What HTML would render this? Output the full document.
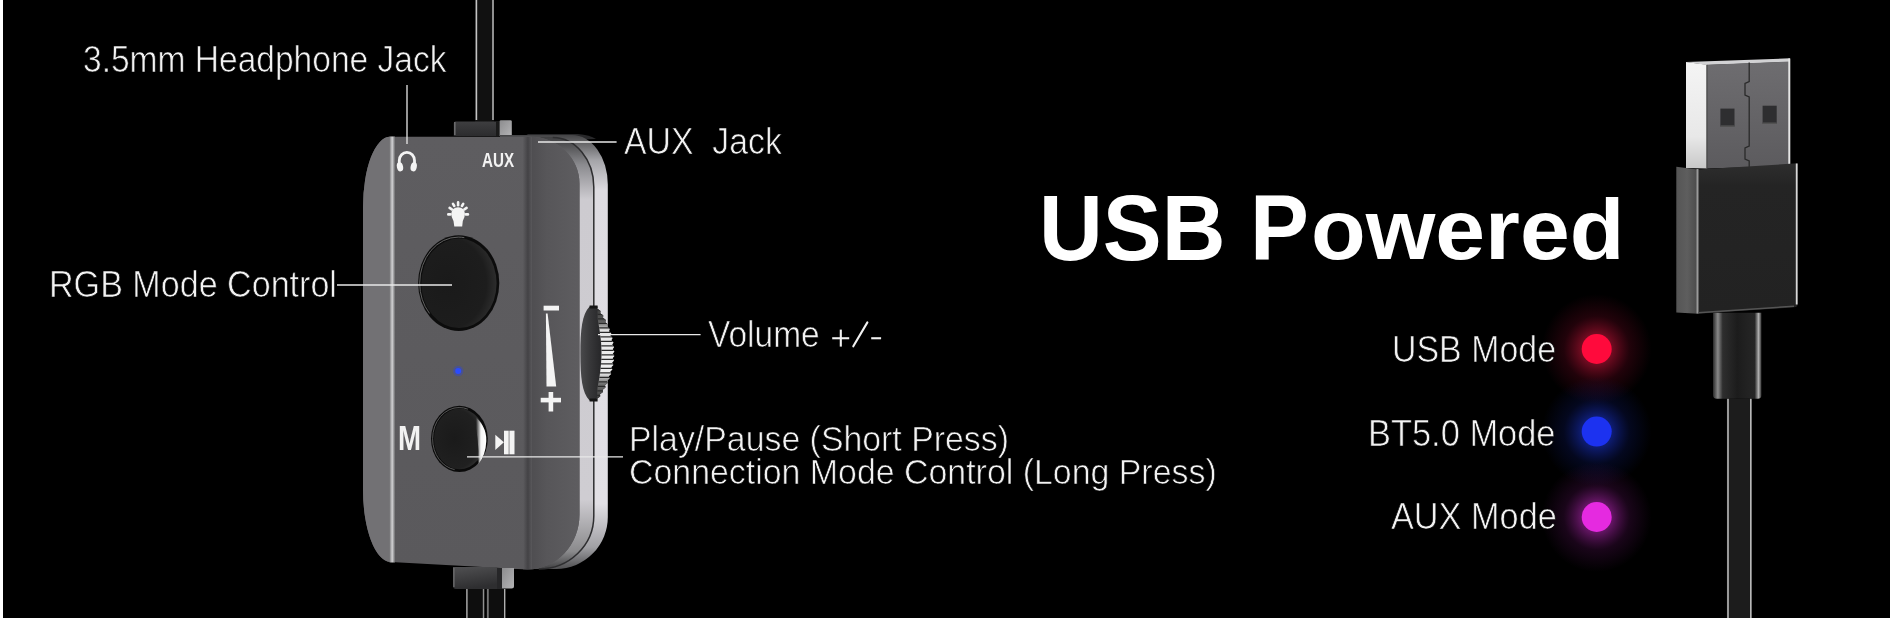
<!DOCTYPE html>
<html><head><meta charset="utf-8">
<style>
html,body{margin:0;padding:0;width:1894px;height:618px;overflow:hidden;background:#fff;}
#stage{position:absolute;left:3px;top:0;width:1887px;height:618px;background:#000;overflow:hidden;}
svg{position:absolute;left:0;top:0;}
.t{position:absolute;transform-origin:0 0;-webkit-text-stroke:0.7px #000;font-family:"Liberation Sans",sans-serif;color:#f2f2f2;white-space:pre;line-height:1;}
</style></head>
<body>
<div id="stage"></div>
<svg width="1894" height="618" viewBox="0 0 1894 618">
  <defs>
    <linearGradient id="sideO" gradientUnits="userSpaceOnUse" x1="0" y1="134" x2="0" y2="569">
      <stop offset="0" stop-color="#404042"/>
      <stop offset="0.015" stop-color="#5a5a5c"/>
      <stop offset="0.06" stop-color="#a4a4a8"/>
      <stop offset="0.13" stop-color="#dedce1"/>
      <stop offset="0.85" stop-color="#e2e0e5"/>
      <stop offset="0.95" stop-color="#a0a0a4"/>
      <stop offset="1" stop-color="#505052"/>
    </linearGradient>
    <linearGradient id="sideI" gradientUnits="userSpaceOnUse" x1="0" y1="134" x2="0" y2="569">
      <stop offset="0" stop-color="#3a3a3c"/>
      <stop offset="0.02" stop-color="#4a4a4c"/>
      <stop offset="0.07" stop-color="#8a8a8e"/>
      <stop offset="0.15" stop-color="#cdcbd0"/>
      <stop offset="0.84" stop-color="#cfcdd2"/>
      <stop offset="0.96" stop-color="#8a8a8c"/>
      <stop offset="1" stop-color="#404042"/>
    </linearGradient>
    <linearGradient id="side" x1="0" y1="0" x2="0" y2="1">
      <stop offset="0" stop-color="#505052"/>
      <stop offset="0.12" stop-color="#a8a8ac"/>
      <stop offset="0.3" stop-color="#c8c8cc"/>
      <stop offset="0.85" stop-color="#d6d6da"/>
      <stop offset="1" stop-color="#6a6a6c"/>
    </linearGradient>
    <linearGradient id="face" x1="0" y1="0" x2="0" y2="1">
      <stop offset="0" stop-color="#5e5d60"/>
      <stop offset="1" stop-color="#5a595c"/>
    </linearGradient>
    <linearGradient id="hl" x1="0" y1="0" x2="1" y2="0">
      <stop offset="0" stop-color="#7a7a7c"/>
      <stop offset="0.5" stop-color="#d2d2d4"/>
      <stop offset="1" stop-color="#6a6a6c"/>
    </linearGradient>
    <clipPath id="faceclip"><path d="M390 136.8 H530 A49 47 0 0 1 579.5 184 V514 A52 55 0 0 1 527.5 569.5 L391 562 A28 72 0 0 1 363 490 V207 A27 70.2 0 0 1 390 136.8 Z"/></clipPath>
    <clipPath id="wheelClip"><path d="M597.4 306.5 L597.4 306.5 L597.4 308.8 L600.5 311.0 L600.3 313.2 L603.3 315.5 L603.0 317.8 L605.8 320.0 L605.3 322.2 L607.9 324.5 L607.3 326.8 L609.8 329.0 L609.0 331.2 L611.3 333.5 L610.4 335.8 L612.6 338.0 L611.4 340.2 L613.5 342.5 L612.2 344.8 L614.1 347.0 L612.7 349.2 L614.4 351.5 L612.8 353.8 L614.4 356.0 L612.6 358.2 L614.0 360.5 L612.1 362.8 L613.4 365.0 L611.3 367.2 L612.4 369.5 L610.2 371.8 L611.2 374.0 L608.8 376.2 L609.6 378.5 L607.1 380.8 L607.7 383.0 L605.0 385.2 L605.5 387.5 L602.7 389.8 L603.0 392.0 L600.0 394.2 L600.2 396.5 L597.0 398.8 L597.5 388.0 L598.0 385.0 L598.6 382.0 L599.1 379.0 L599.6 376.0 L600.0 373.0 L600.4 370.0 L600.7 367.0 L601.0 364.0 L601.2 361.0 L601.4 358.0 L601.5 355.0 L601.5 352.0 L601.4 349.0 L601.3 346.0 L601.1 343.0 L600.8 340.0 L600.5 337.0 L600.1 334.0 L599.7 331.0 L599.2 328.0 L598.7 325.0 L598.2 322.0 L597.7 319.0 Z"/></clipPath>
    <linearGradient id="wheelG" gradientUnits="userSpaceOnUse" x1="0" y1="306" x2="0" y2="401">
      <stop offset="0" stop-color="#353535"/>
      <stop offset="0.16" stop-color="#5a5a5a"/>
      <stop offset="0.26" stop-color="#e6e6e6"/>
      <stop offset="0.7" stop-color="#f0f0f0"/>
      <stop offset="0.82" stop-color="#707070"/>
      <stop offset="1" stop-color="#303030"/>
    </linearGradient>
    <linearGradient id="groove" x1="0" y1="0" x2="1" y2="0">
      <stop offset="0" stop-color="#5c5b5e"/>
      <stop offset="0.55" stop-color="#434245"/>
      <stop offset="1" stop-color="#59585b"/>
    </linearGradient>
    <linearGradient id="rface" x1="0" y1="0" x2="1" y2="0">
      <stop offset="0" stop-color="#4f4e51"/>
      <stop offset="0.3" stop-color="#575659"/>
      <stop offset="1" stop-color="#5e5d60"/>
    </linearGradient>
    <radialGradient id="btnBig" cx="0.36" cy="0.5" r="0.7">
      <stop offset="0" stop-color="#1a1a1a"/>
      <stop offset="0.72" stop-color="#1d1d1d"/>
      <stop offset="1" stop-color="#333333"/>
    </radialGradient>
    <radialGradient id="btnSmall" cx="0.4" cy="0.5" r="0.65">
      <stop offset="0" stop-color="#1a1a1a"/>
      <stop offset="0.75" stop-color="#202020"/>
      <stop offset="1" stop-color="#3a3a3a"/>
    </radialGradient>
    <linearGradient id="hlSmall" gradientUnits="userSpaceOnUse" x1="476" y1="0" x2="485" y2="0">
      <stop offset="0" stop-color="#ffffff" stop-opacity="0"/>
      <stop offset="0.55" stop-color="#ffffff" stop-opacity="0.95"/>
      <stop offset="1" stop-color="#ffffff" stop-opacity="1"/>
    </linearGradient>
    <filter id="soft" x="-50%" y="-50%" width="200%" height="200%"><feGaussianBlur stdDeviation="0.7"/></filter>
    <linearGradient id="usbWhite" x1="0" y1="0" x2="0" y2="1">
      <stop offset="0" stop-color="#f4f4f4"/>
      <stop offset="0.7" stop-color="#e8e8e8"/>
      <stop offset="1" stop-color="#c8c8c8"/>
    </linearGradient>
    <linearGradient id="usbMetal" x1="0" y1="0" x2="0" y2="1">
      <stop offset="0" stop-color="#6e6d70"/>
      <stop offset="1" stop-color="#5c5b5e"/>
    </linearGradient>
    <linearGradient id="usbSide" x1="0" y1="0" x2="1" y2="0">
      <stop offset="0" stop-color="#555555"/>
      <stop offset="0.5" stop-color="#5e5e5e"/>
      <stop offset="1" stop-color="#4a4a4a"/>
    </linearGradient>
    <linearGradient id="usbFront" x1="0" y1="0" x2="0" y2="1">
      <stop offset="0" stop-color="#2e2e2e"/>
      <stop offset="0.15" stop-color="#242424"/>
      <stop offset="1" stop-color="#222222"/>
    </linearGradient>
    <linearGradient id="usbRelief" x1="0" y1="0" x2="1" y2="0">
      <stop offset="0" stop-color="#2a2a2a"/>
      <stop offset="0.1" stop-color="#8a8a8a"/>
      <stop offset="0.2" stop-color="#2e2e2e"/>
      <stop offset="0.5" stop-color="#1c1c1c"/>
      <stop offset="0.86" stop-color="#262626"/>
      <stop offset="0.94" stop-color="#b0b0b0"/>
      <stop offset="1" stop-color="#2a2a2a"/>
    </linearGradient>
    <linearGradient id="connL" x1="0" y1="0" x2="0" y2="1">
      <stop offset="0" stop-color="#3e3e40"/>
      <stop offset="1" stop-color="#2c2c2e"/>
    </linearGradient>
    <linearGradient id="connR" x1="0" y1="0" x2="1" y2="1">
      <stop offset="0" stop-color="#8c8c8e"/>
      <stop offset="1" stop-color="#b4b4b6"/>
    </linearGradient>
    <linearGradient id="connB" x1="0" y1="0" x2="0.3" y2="1">
      <stop offset="0" stop-color="#505052"/>
      <stop offset="1" stop-color="#2e2e30"/>
    </linearGradient>
    <linearGradient id="wheelBody" gradientUnits="userSpaceOnUse" x1="580" y1="0" x2="604" y2="0">
      <stop offset="0" stop-color="#4a4a4c"/>
      <stop offset="0.4" stop-color="#38383a"/>
      <stop offset="1" stop-color="#222224"/>
    </linearGradient>
    <radialGradient id="btn" cx="0.45" cy="0.45" r="0.6">
      <stop offset="0" stop-color="#242424"/>
      <stop offset="1" stop-color="#151515"/>
    </radialGradient>
    <radialGradient id="glowR" r="0.5"><stop offset="0" stop-color="#ff1a4a" stop-opacity="0.75"/><stop offset="0.3" stop-color="#ff1a4a" stop-opacity="0.42"/><stop offset="0.6" stop-color="#d01040" stop-opacity="0.16"/><stop offset="1" stop-color="#d01040" stop-opacity="0"/></radialGradient>
    <radialGradient id="glowB" r="0.5"><stop offset="0" stop-color="#2040ff" stop-opacity="0.75"/><stop offset="0.3" stop-color="#2040ff" stop-opacity="0.42"/><stop offset="0.6" stop-color="#1830c0" stop-opacity="0.16"/><stop offset="1" stop-color="#1830c0" stop-opacity="0"/></radialGradient>
    <radialGradient id="glowM" r="0.5"><stop offset="0" stop-color="#e030e0" stop-opacity="0.75"/><stop offset="0.3" stop-color="#e030e0" stop-opacity="0.42"/><stop offset="0.6" stop-color="#a020a0" stop-opacity="0.16"/><stop offset="1" stop-color="#a020a0" stop-opacity="0"/></radialGradient>
  </defs>

  <!-- top cable -->
  <rect x="475" y="0" width="19" height="122" fill="#111111"/>
  <rect x="475.6" y="0" width="1.6" height="120" fill="#c4c4c4"/>
  <rect x="492.2" y="0" width="1.6" height="120" fill="#b0b0b0"/>
  <!-- top connector -->
  <path d="M453.8 136 V123 Q453.8 121.4 455.4 121.4 H496 V136 Z" fill="url(#connL)"/>
  <rect x="454" y="122" width="1.6" height="13" fill="#6a6a6c"/>
  <rect x="496" y="121" width="3.6" height="15" fill="#1a1a1a"/>
  <path d="M499.6 136 V121.6 Q499.6 120.2 501 120.2 H510.4 Q511.8 120.2 511.8 121.6 V136 Z" fill="url(#connR)"/>
  <!-- device top surface -->
  <path d="M522 138 L528 134 H578 Q590 135 596 139 L560 140 Z" fill="#28282a"/>
  <!-- side panel -->
  <path d="M500 135 H572 A35.8 49.5 0 0 1 607.8 184.5 V516 A52 52 0 0 1 556 569 L500 569 Z" fill="url(#sideO)"/>
  <path d="M500 137 H552.8 A41 50 0 0 1 593.8 187 V516 A55 53 0 0 1 538.8 569 L500 569 Z" fill="url(#sideI)"/>
  <path d="M552.8 137.5 A41 49.5 0 0 1 593.8 187 V516 A55 53 0 0 1 538.8 569" fill="none" stroke="#2e2e30" stroke-width="1.5"/>
  <!-- front face -->
  <path d="M390 136.8 H530 A49 47 0 0 1 579.5 184 V514 A52 55 0 0 1 527.5 569.5 L391 562 A28 72 0 0 1 363 490 V207 A27 70.2 0 0 1 390 136.8 Z" fill="url(#face)"/>
  <path d="M363 207 A27 70.2 0 0 1 390 136.8 V562 A28 72 0 0 1 363 490 Z" fill="#727174"/>
  <rect x="389.5" y="136.5" width="5.5" height="426" fill="url(#hl)"/>
  <rect x="523" y="137" width="9" height="433" fill="url(#groove)" clip-path="url(#faceclip)"/>
  <rect x="532" y="137" width="48" height="433" fill="url(#rface)" clip-path="url(#faceclip)"/>
  <!-- bottom connector + cables -->
  <path d="M453 567 H497 V589 H456 Q453 589 453 586 Z" fill="url(#connB)"/>
  <rect x="453.2" y="568" width="1.4" height="19" fill="#6a6a6c"/>
  <rect x="497" y="568" width="5" height="21" fill="#262628"/>
  <path d="M502 568 H514 V586 Q514 588.5 511.5 588.5 H502 Z" fill="url(#connR)"/>
  <rect x="466" y="589" width="19" height="29" fill="#0e0e0e"/>
  <rect x="486" y="589" width="19" height="29" fill="#0e0e0e"/>
  <rect x="466.2" y="589" width="1.4" height="29" fill="#b0b0b0"/>
  <rect x="482.8" y="589" width="1.4" height="29" fill="#909090"/>
  <rect x="487.2" y="589" width="1.4" height="29" fill="#909090"/>
  <rect x="504" y="589" width="1.4" height="29" fill="#b0b0b0"/>

  <!-- big button -->
  <ellipse cx="458.7" cy="283.1" rx="40.6" ry="47.8" fill="#0c0c0c"/>
  <ellipse cx="458.3" cy="282.9" rx="38.6" ry="45.8" fill="none" stroke="#6a6a6a" stroke-width="0.9" stroke-dasharray="105 400" stroke-dashoffset="-100"/>
  <ellipse cx="459" cy="283.3" rx="37.6" ry="44.8" fill="url(#btnBig)"/>

  <!-- small button -->
  <ellipse cx="459.4" cy="438.8" rx="28.4" ry="33.1" fill="#0a0a0a"/>
  <ellipse cx="459.2" cy="438.8" rx="26.6" ry="31.3" fill="none" stroke="#5e5e5e" stroke-width="0.9" stroke-dasharray="95 300" stroke-dashoffset="-50"/>
  <ellipse cx="459.6" cy="438.9" rx="25.6" ry="30.3" fill="url(#btnSmall)"/>
  <path d="M471 413 Q487 425 486.3 441 Q485.8 455 478.5 464 Q479 451 477.6 439 Q476 423 471 413 Z" fill="url(#hlSmall)" filter="url(#soft)"/>

  <!-- blue LED -->
  <circle cx="458.2" cy="371" r="5.2" fill="#2040ff" opacity="0.3"/>
  <circle cx="458.2" cy="371" r="3" fill="#2a4cff"/>

  <!-- icons on face -->
  <!-- headphone -->
  <path d="M399.3 166 V160.5 A7.6 8.2 0 0 1 414.5 160.5 V166" fill="none" stroke="#f4f4f4" stroke-width="2.8"/>
  <ellipse cx="400" cy="166.8" rx="3.1" ry="4.6" transform="rotate(-12 400 166.8)" fill="#f4f4f4"/>
  <ellipse cx="413.7" cy="166.8" rx="3.1" ry="4.6" transform="rotate(12 413.7 166.8)" fill="#f4f4f4"/>
  <!-- bulb -->
  <path d="M454.3 226.5 L453.5 221 Q451.2 217.5 451.3 213.6 Q451.8 207.3 458.1 207.2 Q464.5 207.3 464.9 213.6 Q465 217.5 462.8 221 L462.2 226.5 Z" fill="#f4f4f4"/>
  <g stroke="#f4f4f4" stroke-width="2.6" stroke-linecap="round">
    <line x1="458.1" y1="202.4" x2="458.1" y2="205.2"/>
    <line x1="453" y1="203.8" x2="454.3" y2="206"/>
    <line x1="463.2" y1="203.8" x2="461.9" y2="206"/>
    <line x1="449.6" y1="207.9" x2="451.8" y2="209.3"/>
    <line x1="466.6" y1="207.9" x2="464.4" y2="209.3"/>
    <line x1="448.3" y1="214.4" x2="450.4" y2="214.4"/>
    <line x1="467.9" y1="214.4" x2="465.8" y2="214.4"/>
  </g>
  <!-- play/pause -->
  <path d="M495.3 434.8 L503.9 442.3 L495.3 449.9 Z" fill="#f4f4f4"/>
  <rect x="504" y="430.7" width="4.7" height="23.6" fill="#f4f4f4"/>
  <rect x="509.4" y="430.7" width="5.1" height="23.6" fill="#f4f4f4"/>
  <!-- volume wedge -->
  <rect x="543.6" y="305.7" width="15.4" height="4.8" fill="#f4f4f4"/>
  <path d="M545.9 313.4 H547.6 L556.2 386.5 H546.5 Z" fill="#f4f4f4"/>
  <rect x="540.7" y="397.8" width="20.3" height="4.6" fill="#f4f4f4"/>
  <rect x="548.6" y="392" width="4.6" height="19.5" fill="#f4f4f4"/>

  <!-- volume wheel -->
  <path d="M589.6 306.5 H597.4 L597.4 306.5 L597.4 308.8 L600.5 311.0 L600.3 313.2 L603.3 315.5 L603.0 317.8 L605.8 320.0 L605.3 322.2 L607.9 324.5 L607.3 326.8 L609.8 329.0 L609.0 331.2 L611.3 333.5 L610.4 335.8 L612.6 338.0 L611.4 340.2 L613.5 342.5 L612.2 344.8 L614.1 347.0 L612.7 349.2 L614.4 351.5 L612.8 353.8 L614.4 356.0 L612.6 358.2 L614.0 360.5 L612.1 362.8 L613.4 365.0 L611.3 367.2 L612.4 369.5 L610.2 371.8 L611.2 374.0 L608.8 376.2 L609.6 378.5 L607.1 380.8 L607.7 383.0 L605.0 385.2 L605.5 387.5 L602.7 389.8 L603.0 392.0 L600.0 394.2 L600.2 396.5 L597.0 398.8 L589.6 400.5 C582 393 580.4 377 580.4 353.5 C580.4 330 582 314 589.6 306.5 Z" fill="url(#wheelBody)"/>
  <path d="M597.4 306.5 L597.4 306.5 L597.4 308.8 L600.5 311.0 L600.3 313.2 L603.3 315.5 L603.0 317.8 L605.8 320.0 L605.3 322.2 L607.9 324.5 L607.3 326.8 L609.8 329.0 L609.0 331.2 L611.3 333.5 L610.4 335.8 L612.6 338.0 L611.4 340.2 L613.5 342.5 L612.2 344.8 L614.1 347.0 L612.7 349.2 L614.4 351.5 L612.8 353.8 L614.4 356.0 L612.6 358.2 L614.0 360.5 L612.1 362.8 L613.4 365.0 L611.3 367.2 L612.4 369.5 L610.2 371.8 L611.2 374.0 L608.8 376.2 L609.6 378.5 L607.1 380.8 L607.7 383.0 L605.0 385.2 L605.5 387.5 L602.7 389.8 L603.0 392.0 L600.0 394.2 L600.2 396.5 L597.0 398.8 L597.5 388.0 L598.0 385.0 L598.6 382.0 L599.1 379.0 L599.6 376.0 L600.0 373.0 L600.4 370.0 L600.7 367.0 L601.0 364.0 L601.2 361.0 L601.4 358.0 L601.5 355.0 L601.5 352.0 L601.4 349.0 L601.3 346.0 L601.1 343.0 L600.8 340.0 L600.5 337.0 L600.1 334.0 L599.7 331.0 L599.2 328.0 L598.7 325.0 L598.2 322.0 L597.7 319.0 Z" fill="url(#wheelG)"/>
  <g stroke="#2a2a2a" stroke-width="1.2" clip-path="url(#wheelClip)"><line x1="595" y1="309.90" x2="616" y2="309.90"/><line x1="595" y1="314.40" x2="616" y2="314.40"/><line x1="595" y1="318.90" x2="616" y2="318.90"/><line x1="595" y1="323.40" x2="616" y2="323.40"/><line x1="595" y1="327.90" x2="616" y2="327.90"/><line x1="595" y1="332.40" x2="616" y2="332.40"/><line x1="595" y1="336.90" x2="616" y2="336.90"/><line x1="595" y1="341.40" x2="616" y2="341.40"/><line x1="595" y1="345.90" x2="616" y2="345.90"/><line x1="595" y1="350.40" x2="616" y2="350.40"/><line x1="595" y1="354.90" x2="616" y2="354.90"/><line x1="595" y1="359.40" x2="616" y2="359.40"/><line x1="595" y1="363.90" x2="616" y2="363.90"/><line x1="595" y1="368.40" x2="616" y2="368.40"/><line x1="595" y1="372.90" x2="616" y2="372.90"/><line x1="595" y1="377.40" x2="616" y2="377.40"/><line x1="595" y1="381.90" x2="616" y2="381.90"/><line x1="595" y1="386.40" x2="616" y2="386.40"/><line x1="595" y1="390.90" x2="616" y2="390.90"/><line x1="595" y1="395.40" x2="616" y2="395.40"/></g>
  <rect x="589.6" y="305.5" width="8" height="3" fill="#151515"/>
  <rect x="589.6" y="398.5" width="8" height="3" fill="#151515"/>

  <!-- callout lines -->
  <g stroke="#e8e8e8" stroke-width="1.3">
    <line x1="407" y1="85" x2="407" y2="144"/>
    <line x1="337" y1="285" x2="452" y2="285"/>
    <line x1="538" y1="142" x2="616.6" y2="142"/>
    <line x1="598" y1="334.6" x2="700.6" y2="334.6"/>
    <line x1="467" y1="456.8" x2="623" y2="456.8"/>
  </g>

  <!-- +/- glyphs -->
  <g stroke="#f2f2f2" stroke-width="2.1">
    <line x1="832.2" y1="338.25" x2="849.2" y2="338.25"/>
    <line x1="840.8" y1="329.6" x2="840.8" y2="346.6"/>
    <line x1="853.3" y1="346.3" x2="867.4" y2="322.4" stroke-linecap="round"/>
    <line x1="871.2" y1="338.25" x2="881.1" y2="338.25"/>
  </g>
  <!-- USB connector -->
  <!-- metal top surface -->
  <path d="M1686 62 L1790 58.3 V62 L1707 65 Z" fill="#d2d2d4"/>
  <!-- left white side -->
  <path d="M1686 62 L1707 64.8 V168.5 L1686 168 Z" fill="url(#usbWhite)"/>
  <!-- metal front -->
  <path d="M1707 64.8 L1790 61.5 V166 L1707 168.5 Z" fill="url(#usbMetal)"/>
  <rect x="1706.3" y="64.8" width="1.2" height="104" fill="#444"/>
  <rect x="1788.3" y="58.5" width="2" height="108" fill="#e6e6e6"/>
  <rect x="1720.4" y="108.6" width="14.1" height="18" fill="#2e2e30"/>
  <rect x="1720.4" y="125.4" width="14.1" height="1.4" fill="#555"/>
  <rect x="1762.6" y="105.7" width="14.1" height="18" fill="#2e2e30"/>
  <rect x="1762.6" y="122.5" width="14.1" height="1.4" fill="#555"/>
  <path d="M1749.2 62.5 V81.5 L1745 83.5 V95 L1749.2 97 V146 L1745 148 V159 L1749.2 161 V167" fill="none" stroke="#2a2a2a" stroke-width="1.3"/>
  <!-- housing side -->
  <path d="M1676.3 166.7 L1698 169.5 V313.7 L1676.3 312.5 Z" fill="url(#usbSide)"/>
  <!-- housing front -->
  <path d="M1698 169.5 L1797.6 163.3 V304 Q1797.6 307.3 1794.3 307.3 L1698 313.7 Z" fill="url(#usbFront)"/>
  <rect x="1696.5" y="169" width="2" height="144.5" fill="#9a9a9a"/>
  <rect x="1795.8" y="163.5" width="1.8" height="141" fill="#d8d8d8"/>
  <path d="M1698 312.7 L1794 306.3" stroke="#555" stroke-width="1.5"/>
  <!-- strain relief -->
  <path d="M1713 312.8 H1761.5 V395 Q1761.5 398.8 1757.7 398.8 H1716.8 Q1713 398.8 1713 395 Z" fill="url(#usbRelief)"/>
  <!-- cable -->
  <rect x="1726.8" y="398.8" width="25.2" height="220" fill="#1c1c1c"/>
  <rect x="1727.2" y="398.8" width="1.6" height="220" fill="#b8b8b8"/>
  <rect x="1750" y="398.8" width="1.6" height="220" fill="#b8b8b8"/>

  <!-- mode dots -->
  <circle cx="1596.7" cy="349" r="55" fill="url(#glowR)"/>
  <circle cx="1596.7" cy="431.6" r="55" fill="url(#glowB)"/>
  <circle cx="1596.7" cy="517" r="55" fill="url(#glowM)"/>
  <circle cx="1596.7" cy="349" r="15" fill="#ff0a3c"/>
  <circle cx="1596.7" cy="431.6" r="15" fill="#1c32f0"/>
  <circle cx="1596.7" cy="517" r="15" fill="#e52ae0"/>
</svg>

<div class="t" style="left:83.2px;top:42.2px;font-size:36.7px;transform:scaleX(0.914);">3.5mm Headphone Jack</div>
<div class="t" style="left:49.1px;top:266.6px;font-size:36.4px;transform:scaleX(0.9366);">RGB Mode Control</div>
<div class="t" style="left:624.4px;top:124.2px;font-size:36.4px;transform:scaleX(0.929);">AUX  Jack</div>
<div class="t" style="left:708.4px;top:317px;font-size:36.9px;transform:scaleX(0.908);">Volume</div>
<div class="t" style="left:629.4px;top:422.1px;font-size:34.9px;transform:scaleX(0.97);">Play/Pause (Short Press)</div>
<div class="t" style="left:628.9px;top:455.3px;font-size:34.6px;transform:scaleX(0.98);">Connection Mode Control (Long Press)</div>
<div class="t" style="left:1038.6px;top:182px;font-size:92.6px;font-weight:bold;color:#fff;-webkit-text-stroke:0;transform:scaleX(0.954);">USB P</div>
<div class="t" style="left:1310.8px;top:185.6px;font-size:86px;font-weight:bold;color:#fff;-webkit-text-stroke:0;transform:scaleX(1.041);">owered</div>
<div class="t" style="left:1392px;top:332.1px;font-size:36.4px;transform:scaleX(0.932);">USB Mode</div>
<div class="t" style="left:1368.4px;top:415.8px;font-size:36.5px;transform:scaleX(0.943);">BT5.0 Mode</div>
<div class="t" style="left:1390.7px;top:499px;font-size:36.4px;transform:scaleX(0.942);">AUX Mode</div>
<div class="t" style="-webkit-text-stroke:0;left:482px;top:150px;font-size:20.4px;font-weight:bold;transform:scaleX(0.745);">AUX</div>
<div class="t" style="-webkit-text-stroke:0;left:398px;top:419.5px;font-size:35px;font-weight:bold;transform:scaleX(0.79);">M</div>
</body></html>
